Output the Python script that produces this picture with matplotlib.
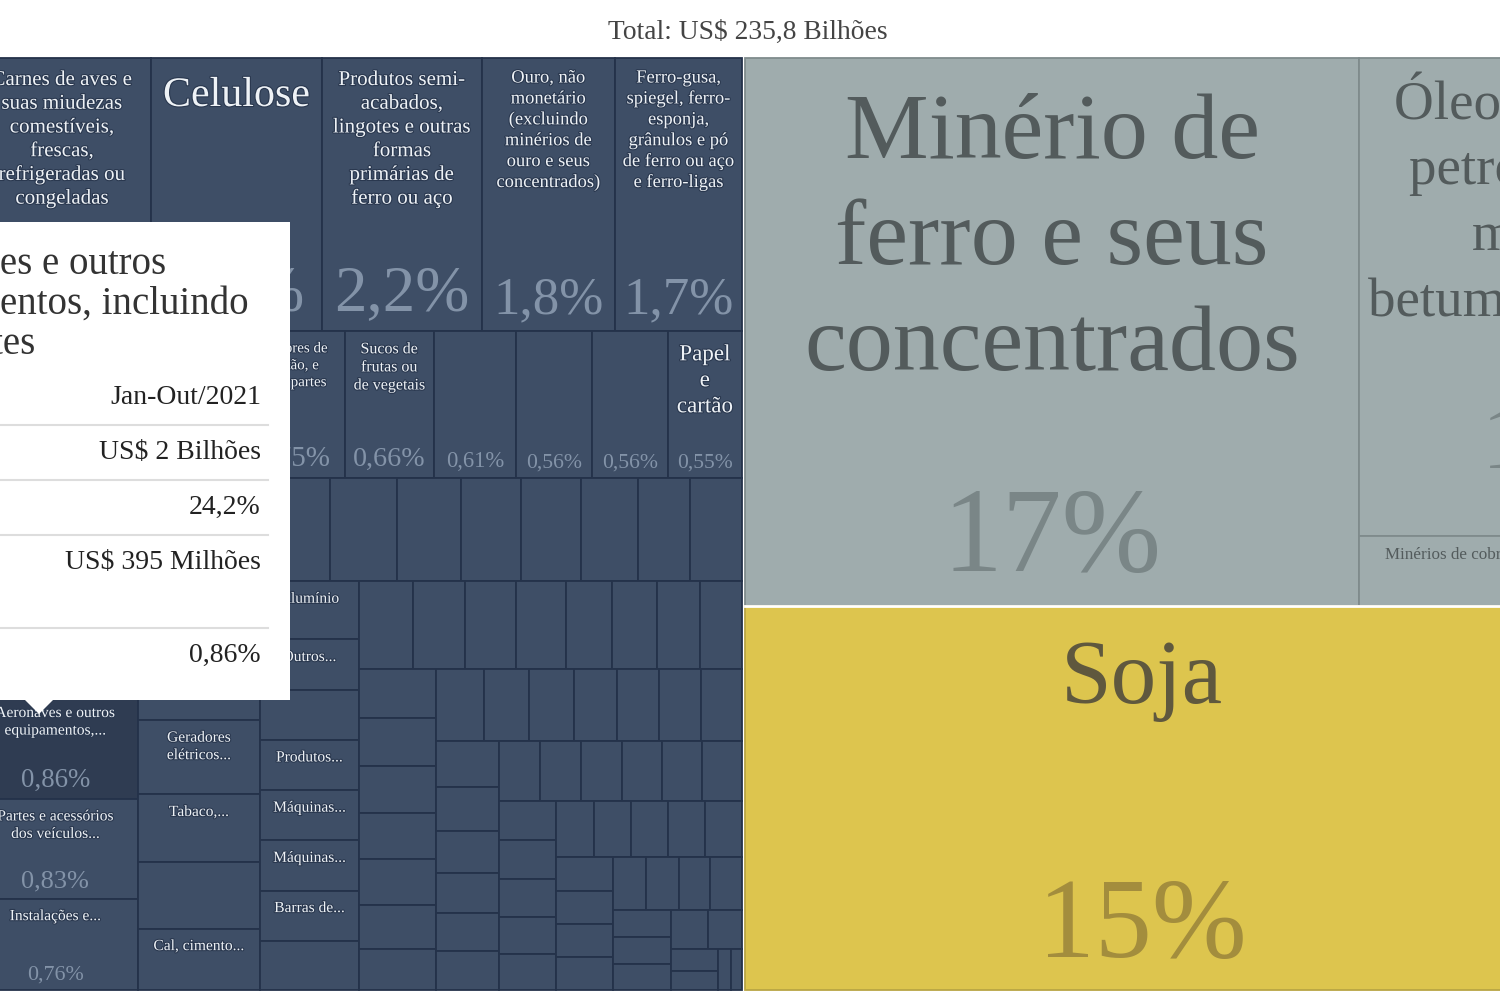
import numpy as np
import matplotlib.pyplot as plt
import matplotlib.patches as mpatches
import matplotlib.patheffects as pe

# Share (%) of each product in the total exports, Jan-Out/2021.
# The picture is a crop of a bigger treemap: only the visible part is kept.
TITLE = "Total: US$ 235,8 Bilhões"

# dark blue block, one list per squarified strip (first strip on top)
NAVY_VALUES = [
    [2.46, 2.36, 2.20, 1.845, 1.749],
    [1.03, 1.00, 1.00, 0.86, 0.83, 0.76],
    [0.78, 0.75, 0.66, 0.61, 0.56, 0.56, 0.55],
    [0.53, 0.50, 0.47, 0.46, 0.42, 0.41, 0.38],
    [0.364, 0.349, 0.338, 0.312, 0.312, 0.297, 0.276, 0.27],
    [0.29, 0.25, 0.25, 0.25, 0.25, 0.25, 0.25, 0.245],
    [0.24, 0.228, 0.226, 0.22, 0.206, 0.198, 0.189, 0.185],
    [0.195, 0.186, 0.184, 0.182, 0.178, 0.176, 0.159],
    [0.174, 0.165, 0.162, 0.158, 0.155, 0.152, 0.150],
    [0.146, 0.14, 0.131, 0.127, 0.123, 0.122],
    [0.125, 0.125, 0.123, 0.123, 0.122, 0.121],
    [0.112, 0.11, 0.109, 0.106, 0.104],
    [0.106, 0.105, 0.103, 0.103, 0.103],
    [0.098, 0.096, 0.095, 0.094],
    [0.09, 0.087, 0.086, 0.085],
    [0.08, 0.078, 0.076],
    [0.074, 0.068],
    [0.05, 0.046],
    [0.028, 0.022],
]
NAVY_LABELS = [
    ["Carnes de aves e\nsuas miudezas\ncomestíveis,\nfrescas,\nrefrigeradas ou\ncongeladas",
     "Celulose",
     "Produtos semi-\nacabados,\nlingotes e outras\nformas\nprimárias de\nferro ou aço",
     "Ouro, não\nmonetário\n(excluindo\nminérios de\nouro e seus\nconcentrados)",
     "Ferro-gusa,\nspiegel, ferro-\nesponja,\ngrânulos e pó\nde ferro ou aço\ne ferro-ligas"],
    ["", "", "", "Aeronaves e outros\nequipamentos,...", "Partes e acessórios\ndos veículos...",
     "Instalações e..."],
    ["", "Motores de\npistão, e\nsuas partes", "Sucos de\nfrutas ou\nde vegetais", "", "", "",
     "Papel\ne\ncartão"],
    ["", "", "", "Geradores\nelétricos...", "Tabaco,...", "", "Cal, cimento..."],
    [""] * 8,
    ["Alumínio", "Outros...", "", "Produtos...", "Máquinas...", "Máquinas...", "Barras de...", ""],
]

# grey block: iron ore, crude oil, copper ore (+ a cut-off neighbour)
GREY_VALUES = [[17.0], [10.0], [1.13, 0.35]]
GREY_LABELS = [["Minério de\nferro e seus\nconcentrados"],
               ["Óleos brutos de\npetróleo ou de\nminerais\nbetuminosos, crus"],
               ["Minérios de cobre e seus concentrados", ""]]

# yellow block: soy (+ cut-off neighbour)
YELLOW_VALUES = [[15.4], [4.54]]
YELLOW_LABELS = [["Soja"], [""]]

HOVERED = "Aeronaves e outros\nequipamentos,..."
TOOLTIP_TITLE = ["Aeronaves e outros", "equipamentos, incluindo", "suas partes"]
TOOLTIP_VALUES = ["Jan-Out/2021", "US$ 2 Bilhões", "24,2%", "US$ 395 Milhões", "0,86%"]
TOOLTIP_ROW_LINES = [1, 1, 1, 2, 1]

# ---- layout / style --------------------------------------------------------
PX_PER_PCT = 19800          # screen area (px^2) for 1 % of the total
TOP, BOTTOM = 58, 990
NAVY_RIGHT, RIGHT_LEFT = 742, 745
SERIF = "Liberation Serif"

NAVY_ORIENT = ["row" if i % 2 == 0 else "col" for i in range(len(NAVY_VALUES))]
GREY_ORIENT = ["col", "row", "row"]
YELLOW_ORIENT = ["col", "col"]

LABEL_PX = {"Carnes de aves e": 21, "Celulose": 42, "Produtos semi-": 21, "Ouro, não": 18.5,
            "Ferro-gusa,": 18.5, "Motores de": 15, "Sucos de": 16, "Papel": 23,
            "Minério de": 94, "Óleos brutos de": 55, "Minérios de cobre e seus concentrados": 17,
            "Soja": 91}
LINE_GAP = {"Óleos brutos de": 1.19}
PCT_PX = {"Celulose": 65, "Produtos semi-": 65, "Ouro, não": 53, "Ferro-gusa,": 53,
          "Motores de": 29, "Sucos de": 28, "Instalações e...": 22}
PCT_PAD = {"Óleos brutos de": 67}

STYLES = {
    "navy": dict(fill="#3e4e66", edge="#24324a", label="#eef2f6", pct="#8393a8", stroke="#2a384f"),
    "grey": dict(fill="#9facad", edge="#7f8b8c", label="#535b5c", pct="#7a8687", stroke=None),
    "yellow": dict(fill="#ddc54e", edge="#b9a544", label="#5f583e", pct="#a38d3d", stroke=None),
}


def slice_layout(x0, y0, x1, y1, groups, orients):
    cells = []
    for vals, o in zip(groups, orients):
        area = sum(vals) * PX_PER_PCT
        if o == "col":
            w = area / (y1 - y0)
            y = y0
            for v in vals:
                h = v * PX_PER_PCT / w
                cells.append((x0, y, w, h))
                y += h
            x0 += w
        else:
            h = area / (x1 - x0)
            x = x0
            for v in vals:
                w = v * PX_PER_PCT / h
                cells.append((x, y0, w, h))
                x += w
            y0 += h
    return cells


def fmt_pct(v):
    if v >= 10:
        s = f"{v:.0f}%"
    elif v >= 1:
        s = f"{v:.1f}%"
    else:
        s = f"{v:.2f}%"
    return s.replace(".", ",")


def draw_block(ax, cells, values, labels, style):
    st = STYLES[style]
    effects = [pe.withStroke(linewidth=1.6, foreground=st["stroke"])] if st["stroke"] else None
    for (x, y, w, h), v, lab in zip(cells, values, labels):
        fill = "#2f3c52" if lab == HOVERED else st["fill"]
        ax.add_patch(mpatches.Rectangle((x, y), w, h, facecolor=fill, edgecolor=st["edge"],
                                        linewidth=1.3, zorder=1))
        cx = x + w / 2
        key = lab.split("\n")[0] if lab else ""
        if lab:
            px = LABEL_PX.get(key, 15.5)
            gap = LINE_GAP.get(key, 1.13)
            for i, line in enumerate(lab.split("\n")):
                ax.text(cx, y + px + 6 + i * px * gap, line, fontsize=px * 0.72, family=SERIF,
                        color=st["label"], ha="center", va="baseline", zorder=3,
                        path_effects=effects)
        # percentage only where the cell is big enough
        if v >= 0.5 and h >= 85:
            px = PCT_PX.get(key, 29 * np.sqrt(v))
            pad = PCT_PAD.get(key, 0.25 * px + 5)
            ax.text(cx, y + h - pad, fmt_pct(v), fontsize=px * 0.72, family=SERIF,
                    color=st["pct"], ha="center", va="baseline", zorder=3)


def flat(groups, labels):
    vals = [v for g in groups for v in g]
    labs = []
    for i, g in enumerate(groups):
        row = labels[i] if i < len(labels) else [""] * len(g)
        labs += row
    return vals, labs


fig = plt.figure(figsize=(15, 10), dpi=100)
ax = fig.add_axes([0, 0, 1, 1])
ax.set_xlim(0, 1500)
ax.set_ylim(1000, 0)
ax.axis("off")

# dark blue block, right edge fixed, width from its total share
navy_vals, navy_labs = flat(NAVY_VALUES, NAVY_LABELS)
navy_w = sum(navy_vals) * PX_PER_PCT / (BOTTOM - TOP)
navy_cells = slice_layout(NAVY_RIGHT - navy_w, TOP, NAVY_RIGHT, BOTTOM, NAVY_VALUES, NAVY_ORIENT)
draw_block(ax, navy_cells, navy_vals, navy_labs, "navy")

# grey block on top, yellow block below
grey_vals, grey_labs = flat(GREY_VALUES, GREY_LABELS)
yel_vals, yel_labs = flat(YELLOW_VALUES, YELLOW_LABELS)
right_w = (sum(grey_vals) + sum(yel_vals)) * PX_PER_PCT / (BOTTOM - TOP)
split_y = TOP + sum(grey_vals) * PX_PER_PCT / right_w
grey_cells = slice_layout(RIGHT_LEFT, TOP, RIGHT_LEFT + right_w, split_y, GREY_VALUES, GREY_ORIENT)
yel_cells = slice_layout(RIGHT_LEFT, split_y, RIGHT_LEFT + right_w, BOTTOM, YELLOW_VALUES, YELLOW_ORIENT)
draw_block(ax, grey_cells, grey_vals, grey_labs, "grey")
draw_block(ax, yel_cells, yel_vals, yel_labs, "yellow")
ax.plot([RIGHT_LEFT, RIGHT_LEFT + right_w], [split_y, split_y], color="white", lw=2, zorder=2)

ax.text(748, 39, TITLE, fontsize=19.8, family=SERIF, color="#444444", ha="center", va="baseline")

# hover tooltip (left part is outside the crop)
tip_left, tip_right, tip_top, tip_bottom = -40, 290, 222, 700
ax.add_patch(mpatches.Rectangle((tip_left, tip_top), tip_right - tip_left, tip_bottom - tip_top,
                                facecolor="white", edgecolor="none", zorder=10))
ax.add_patch(mpatches.Polygon([(24, tip_bottom - 1), (54, tip_bottom - 1), (39, 714)],
                              closed=True, facecolor="white", edgecolor="none", zorder=10))
for i, line in enumerate(TOOLTIP_TITLE):
    ax.text(-134, 274 + i * 40, line, fontsize=28, family=SERIF, color="#333333",
            ha="left", va="baseline", zorder=11)
row_top = 370
for k, (val, n) in enumerate(zip(TOOLTIP_VALUES, TOOLTIP_ROW_LINES)):
    ax.text(261, row_top + 34, val, fontsize=20, family=SERIF, color="#222222",
            ha="right", va="baseline", zorder=11)
    row_top += 17 + 38 * n
    if k < len(TOOLTIP_VALUES) - 1:
        ax.plot([tip_left, 268], [row_top, row_top], color="#dddddd", lw=1.5, zorder=11)

fig.savefig("out.png", dpi=100, facecolor="white")
